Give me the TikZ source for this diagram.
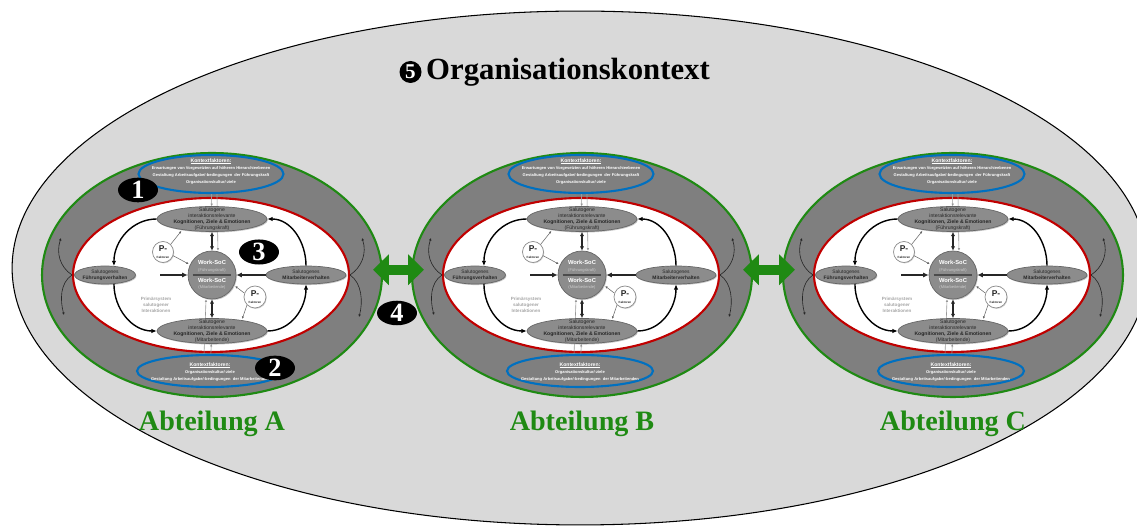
\documentclass[tikz,border=0pt]{standalone}
\usepackage{fontspec}
\setmainfont{Liberation Serif}
\newfontfamily\arialfont{Liberation Sans}
\usetikzlibrary{arrows.meta,positioning,shapes.geometric,shadows}
\definecolor{orgGrey}{HTML}{D9D9D9}
\definecolor{ringGrey}{HTML}{7F7F7F}
\definecolor{boxGrey}{HTML}{8C8C8C}
\definecolor{abtGreen}{HTML}{1F8A13}
\definecolor{sysRed}{HTML}{C00000}
\definecolor{ctxBlue}{HTML}{0070C0}
\newcommand{\fsz}[2]{\arialfont\fontsize{#1}{#2}\selectfont}
\newsavebox{\headbox}
\newcommand{\ctxhead}[1]{\sbox{\headbox}{#1}\rlap{\rule[-0.55pt]{\wd\headbox}{0.2pt}}\usebox{\headbox}}

\begin{document}
\begin{tikzpicture}[x=0.02cm,y=-0.02cm,>=Latex]
\tikzstyle{abtring}=[ellipse,draw=abtGreen,fill=ringGrey,line width=1.2pt,minimum width=6.8cm,minimum height=4.88cm,inner sep=0pt]
\tikzstyle{sysring}=[ellipse,draw=sysRed,fill=white,line width=1.2pt,minimum width=5.52cm,minimum height=3.08cm,inner sep=0pt]
\tikzstyle{ctxbox}=[ellipse,draw=ctxBlue,fill=ringGrey,line width=1.2pt,inner sep=0pt]
\tikzstyle{ctxtext}=[align=center,text=white,font=\fsz{2.3}{4}\bfseries]
\tikzstyle{kogbox}=[ellipse,draw=black!60,fill=boxGrey,line width=0.4pt,minimum width=2.2cm,minimum height=0.5cm,inner sep=0pt,drop shadow={shadow xshift=0.5pt,shadow yshift=-0.6pt,opacity=0.45}]
\tikzstyle{kogtext}=[align=center,text=black!85,font=\fsz{2.9}{3.4}]
\tikzstyle{verhbox}=[kogbox,minimum height=0.36cm]
\tikzstyle{verhtext}=[align=center,text=black!85,font=\fsz{2.8}{3.4}]
\tikzstyle{socbox}=[circle,draw=black!60,fill=boxGrey,line width=0.4pt,minimum size=0.96cm,inner sep=0pt,drop shadow={shadow xshift=0.5pt,shadow yshift=-0.6pt,opacity=0.45}]
\tikzstyle{soctext}=[align=center,text=white,font=\fsz{3.3}{3.8}\bfseries]
\tikzstyle{pfbox}=[circle,draw=black!45,fill=white,line width=0.4pt,inner sep=0pt,drop shadow={shadow xshift=0.4pt,shadow yshift=-0.5pt,opacity=0.35}]
\tikzstyle{pftext}=[align=center,text=black!85,font=\fsz{4.8}{4.2}\bfseries]
\tikzstyle{primtext}=[align=center,text=black!35,font=\fsz{2.6}{3.4}\bfseries]
\tikzstyle{bigarc}=[->,black,line width=0.8pt,arrows={-Latex[length=3pt,width=2.6pt]}]
\tikzstyle{thickarrow}=[black!85,line width=1.2pt,arrows={-Latex[length=3.2pt,width=3pt]}]
\tikzstyle{dblarrow}=[black!85,line width=0.9pt,arrows={Latex[length=2.4pt,width=2.4pt]-Latex[length=2.4pt,width=2.4pt]}]
\tikzstyle{thinline}=[black!40,line width=0.35pt,arrows={-Latex[length=1.4pt,width=1.4pt]}]
\tikzstyle{pfarrow}=[black!60,line width=0.3pt,arrows={-Latex[length=1.4pt,width=1.4pt]},shorten >=0.8pt]
\tikzstyle{outarc}=[black!85,line width=0.35pt,arrows={-Latex[length=1.5pt,width=1.5pt]}]
\tikzstyle{abttext}=[text=abtGreen,inner sep=0pt,font=\bfseries\fontsize{16}{18}\selectfont]
\tikzstyle{titletext}=[inner sep=0pt,font=\bfseries\fontsize{17.5}{20}\selectfont]
\tikzstyle{badge}=[ellipse,fill=black,text=white,minimum width=0.8cm,minimum height=0.48cm,inner sep=0pt,font=\bfseries\fontsize{15}{15}\selectfont]
\tikzstyle{greenarrow}=[draw=abtGreen,line width=5.7pt,arrows={Triangle[length=9pt,width=17pt]-Triangle[length=9pt,width=17pt]},shorten <=-5.7pt,shorten >=-7.4pt]

\useasboundingbox (0,0) rectangle (1137,526);
\clip (0,0) rectangle (1137,526);
\fill[white] (0,0) rectangle (1137,526);

% organisation
\draw[black,fill=orgGrey,line width=0.6pt] (580,268) ellipse [x radius=11.36cm,y radius=5.14cm];
\node[titletext] (orgtitle) at (568,72) {Organisationskontext};
\node[circle,fill=black,text=white,minimum size=0.44cm,inner sep=0pt,font=\bfseries\fontsize{12}{12}\selectfont,left=0.08cm of orgtitle] (five) {5};

% departments
\foreach \cx/\ab in {212/A,582/B,953/C}{
\begin{scope}[shift={(\cx,275)}]
\node[abtring] (ring\ab) at (0,0) {};
\node[sysring] (sys\ab) at (-1,0) {};
\node[ctxbox,minimum width=2.9cm,minimum height=0.76cm,label={[ctxtext,yshift=1.5pt]center:{{\fsz{2.9}{4}\ctxhead{Kontextfaktoren:}}\\Erwartungen von Vorgesetzten auf höheren Hierarchieebenen\\Gestaltung Arbeitsaufgabe/-bedingungen\ \ der Führungskraft\\Organisationskultur/-ziele}}] (ktop\ab) at (-1,-101) {};
\node[ctxbox,minimum width=2.92cm,minimum height=0.64cm,label={[ctxtext,yshift=-0.6pt]center:{{\fsz{2.9}{4}\ctxhead{Kontextfaktoren:}}\\Organisationskultur/-ziele\\Gestaltung Arbeitsaufgabe/-bedingungen\ \ der Mitarbeitenden}}] (kbot\ab) at (-2,96) {};
\node[socbox,label={[soctext]center:{Work-SoC\\{\fsz{2.3}{3.2}\mdseries\color{white!80!black}(Führungskraft)}\\[2.6pt]Work-SoC\\{\fsz{2.3}{3.2}\mdseries\color{white!80!black}(Mitarbeitende)}}}] (soc\ab) at (0,0) {};
\draw[black!70,line width=0.6pt] ([xshift=-11pt]soc\ab.center) -- ([xshift=11pt]soc\ab.center);
\draw[thinline] ([xshift=3.4pt]ktop\ab.south) -- ([xshift=3.4pt]soc\ab.north);
\draw[thinline] ([xshift=-3.4pt]kbot\ab.north) -- ([xshift=-3.4pt]soc\ab.south);
\node[kogbox,label={[kogtext]center:{Salutogene\\interaktionsrelevante\\\textbf{Kognitionen,\ Ziele\ \&\ Emotionen}\\(Führungskraft)}}] (kogF\ab) at (0,-56) {};
\node[kogbox,label={[kogtext]center:{Salutogene\\interaktionsrelevante\\\textbf{Kognitionen,\ Ziele\ \&\ Emotionen}\\(Mitarbeitende)}}] (kogM\ab) at (0,56) {};
\node[verhbox,minimum width=1.22cm,label={[verhtext]center:{Salutogenes\\\textbf{Führungsverhalten}}}] (fv\ab) at (-107,0) {};
\node[verhbox,minimum width=1.6cm,label={[verhtext]center:{Salutogenes\\\textbf{Mitarbeiterverhalten}}}] (mv\ab) at (94,0) {};
\node[pfbox,minimum size=0.42cm,label={[pftext]center:{P-\\{\fsz{1.7}{2}Faktoren}}}] (pfa\ab) at (-49,-23) {};
\node[pfbox,minimum size=0.44cm,label={[pftext]center:{P-\\{\fsz{1.7}{2}Faktoren}}}] (pfb\ab) at (43,22) {};
\node[primtext] (prim\ab) at (-56,30) {Primärsystem\\salutogener\\Interaktionen};
\coordinate (otl\ab) at (-151,-37);
\coordinate (obl\ab) at (-148,40);
\coordinate (otr\ab) at (150,-37);
\coordinate (obr\ab) at (147,42);
% interactions
\draw[bigarc] (kogF\ab.west) to[out=180,in=90] (fv\ab.45);
\draw[bigarc] (mv\ab.north) to[out=90,in=0] (kogF\ab.east);
\draw[bigarc] (fv\ab.-45) to[out=-90,in=180] (kogM\ab.west);
\draw[bigarc] (kogM\ab.east) to[out=0,in=-90] (mv\ab.south);
\draw[thickarrow,shorten <=14pt] (fv\ab.east) -- (soc\ab.west);
\draw[thickarrow] (mv\ab.west) -- (soc\ab.east);
\draw[dblarrow] (kogF\ab) -- (soc\ab);
\draw[dblarrow] (soc\ab) -- (kogM\ab);
\draw[thinline] (ktop\ab) -- (kogF\ab);
\draw[thinline] (kbot\ab) -- (kogM\ab);
\draw[pfarrow] (pfa\ab.45) -- (kogF\ab.-160);
\draw[pfarrow] (pfa\ab.-20) -- (soc\ab.155);
\draw[pfarrow] (pfb\ab.160) -- (soc\ab.-25);
\draw[pfarrow] (pfb\ab.-135) -- (kogM\ab.20);
\draw[outarc] (sys\ab.west) .. controls +(-12,-8) and +(-5,15) .. (otl\ab);
\draw[outarc] (sys\ab.west) .. controls +(-12,8) and +(-4,-15) .. (obl\ab);
\draw[outarc] (sys\ab.east) .. controls +(12,-8) and +(5,15) .. (otr\ab);
\draw[outarc] (sys\ab.east) .. controls +(12,8) and +(4,-15) .. (obr\ab);
\node[abttext,below=0.26cm of ring\ab] (abt\ab) {Abteilung \ab};
\end{scope}
}

% links between departments
\draw[greenarrow] ([yshift=3pt]ringA.east) -- ([yshift=3pt]ringB.west);
\draw[greenarrow] ([yshift=3pt]ringB.east) -- ([yshift=3pt]ringC.west);

% numbered badges
\node[badge] (one) at (138,190) {1};
\node[badge] (three) at (259,252) {3};
\node[badge] (two) at (275,368) {2};
\node[badge] (four) at (397,313) {4};
\end{tikzpicture}
\end{document}
